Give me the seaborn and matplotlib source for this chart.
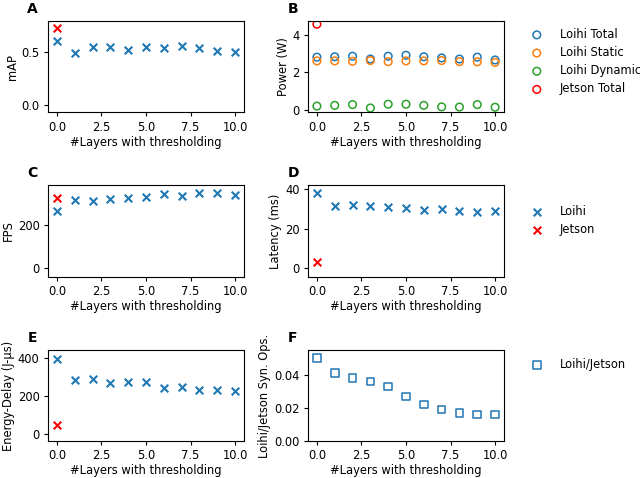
import numpy as np
import pandas as pd
import matplotlib
matplotlib.use("Agg")
import matplotlib.pyplot as plt
import seaborn as sns

layers = list(range(11))
map_loihi = [0.61, 0.49, 0.55, 0.55, 0.52, 0.55, 0.54, 0.56, 0.54, 0.51, 0.50]
map_jetson = [0.73]
power_total = [2.80, 2.82, 2.85, 2.70, 2.85, 2.90, 2.82, 2.76, 2.70, 2.80, 2.65]
power_static = [2.60, 2.60, 2.58, 2.62, 2.56, 2.60, 2.60, 2.62, 2.56, 2.55, 2.52]
power_dynamic = [0.20, 0.24, 0.28, 0.10, 0.30, 0.30, 0.24, 0.16, 0.15, 0.28, 0.14]
power_jetson = [4.55]
fps_loihi = [260, 310, 305, 315, 320, 325, 340, 330, 342, 342, 335]
fps_jetson = [320]
lat_loihi = [38.0, 31.5, 32.0, 31.5, 31.0, 30.5, 29.5, 30.0, 29.0, 28.5, 29.0]
lat_jetson = [3.2]
ed_loihi = [395, 283, 287, 265, 273, 270, 243, 248, 230, 230, 225]
ed_jetson = [45]
synops_ratio = [0.050, 0.041, 0.038, 0.036, 0.033, 0.027, 0.022, 0.019, 0.017, 0.016, 0.016]

BLUE = "#1f77b4"
ORANGE = "#ff7f0e"
GREEN = "#2ca02c"
RED = "red"

FS = 8.3
sns.set_theme(style="ticks")
plt.rcParams.update({
    "font.family": ["DejaVu Sans"],
    "font.size": FS, "axes.labelsize": FS,
    "xtick.labelsize": FS, "ytick.labelsize": FS, "legend.fontsize": FS,
    "xtick.major.size": 3, "ytick.major.size": 3,
    "xtick.major.width": 0.8, "ytick.major.width": 0.8,
    "xtick.major.pad": 3, "ytick.major.pad": 3,
    "axes.linewidth": 0.8, "axes.labelpad": 2,
    "text.color": "black", "axes.labelcolor": "black",
    "xtick.color": "black", "ytick.color": "black", "axes.edgecolor": "black",
})

fig = plt.figure(figsize=(6.4, 4.78), dpi=100)
W, H = 640, 478

def make_ax(left, top, right, bottom):
    return fig.add_axes([left / W, 1 - bottom / H, (right - left) / W, (bottom - top) / H])

rows = [(21, 112.5), (185, 277), (350, 441)]
cols = [(48, 244), (308, 504)]
axs = [[make_ax(c[0], r[0], c[1], r[1]) for c in cols] for r in rows]

def xscatter(ax, x, y, color, label=None):
    sns.scatterplot(x=x, y=y, marker="x", color=color, s=30, linewidth=1.5,
                    ax=ax, label=label, legend=False)

def oscatter(ax, x, y, color, label=None, marker="o"):
    sns.scatterplot(x=x, y=y, marker=marker, facecolors="none", edgecolor=color,
                    s=30, linewidth=1.1, label=label, ax=ax, legend=False)

leg_kw = dict(loc="upper left", frameon=False, borderaxespad=0,
              handletextpad=1.0, labelspacing=0.45)

# A
ax = axs[0][0]
xscatter(ax, layers, map_loihi, BLUE)
xscatter(ax, [0], map_jetson, RED)
ax.set_ylim(-0.076, 0.80)
ax.set_yticks([0.0, 0.5])
ax.set_ylabel("mAP")

# B
ax = axs[0][1]
for name, vals, col in [("Loihi Total", power_total, BLUE),
                        ("Loihi Static", power_static, ORANGE),
                        ("Loihi Dynamic", power_dynamic, GREEN)]:
    oscatter(ax, layers, vals, col, label=name)
oscatter(ax, [0], power_jetson, RED, label="Jetson Total")
ax.set_ylim(-0.14, 4.72)
ax.set_yticks([0, 2, 4])
ax.set_ylabel("Power (W)")
ax.legend(bbox_to_anchor=(1.085, 0.975), **leg_kw)

# C
ax = axs[1][0]
xscatter(ax, layers, fps_loihi, BLUE)
xscatter(ax, [0], fps_jetson, RED)
ax.set_ylim(-39, 380)
ax.set_yticks([0, 200])
ax.set_ylabel("FPS")

# D
ax = axs[1][1]
xscatter(ax, layers, lat_loihi, BLUE, label="Loihi")
xscatter(ax, [0], lat_jetson, RED, label="Jetson")
ax.set_ylim(-4.3, 41.8)
ax.set_yticks([0, 20, 40])
ax.set_ylabel("Latency (ms)")
ax.legend(bbox_to_anchor=(1.085, 0.83), **leg_kw)

# E
ax = axs[2][0]
xscatter(ax, layers, ed_loihi, BLUE)
xscatter(ax, [0], ed_jetson, RED)
ax.set_ylim(-37, 440)
ax.set_yticks([0, 200, 400])
ax.set_ylabel("Energy-Delay (J-µs)")

# F
ax = axs[2][1]
oscatter(ax, layers, synops_ratio, BLUE, label="Loihi/Jetson", marker="s")
ax.set_ylim(0, 0.055)
ax.set_yticks([0.00, 0.02, 0.04])
ax.set_ylabel("Loihi/Jetson Syn. Ops.")
ax.legend(bbox_to_anchor=(1.085, 0.96), **leg_kw)

labels = ["A", "B", "C", "D", "E", "F"]
for i, (r, c) in enumerate([(0, 0), (0, 1), (1, 0), (1, 1), (2, 0), (2, 1)]):
    ax = axs[r][c]
    ax.set_xlim(-0.5, 10.5)
    ax.set_xticks([0.0, 2.5, 5.0, 7.5, 10.0])
    ax.set_xticklabels(["0.0", "2.5", "5.0", "7.5", "10.0"])
    ax.set_xlabel("#Layers with thresholding", labelpad=1.5)
    for s in ax.spines.values():
        s.set_visible(True)
    ax.text(-0.105, 1.09, labels[i], transform=ax.transAxes, fontsize=10,
            fontweight="bold", ha="left", va="baseline")

fig.savefig("out.png", dpi=100)
